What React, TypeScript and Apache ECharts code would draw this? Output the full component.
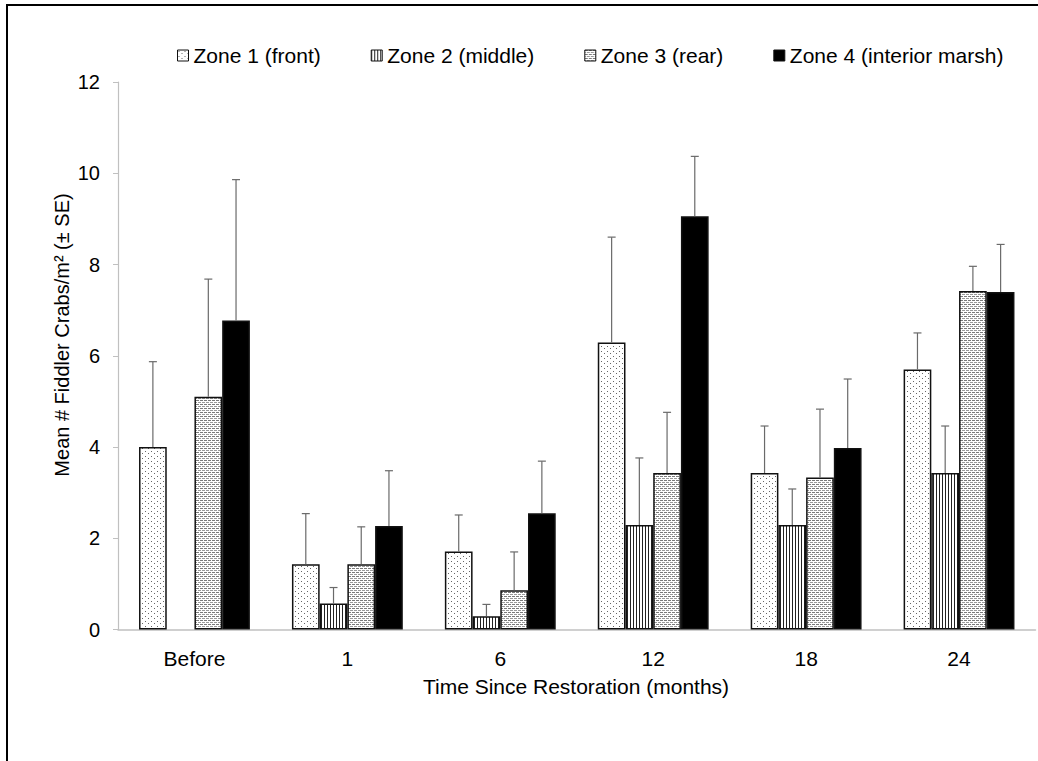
import React, { useEffect, useRef } from "react";
import * as echarts from "echarts";

const categories = ["Before", "1", "6", "12", "18", "24"];
const zoneNames = ["Zone 1 (front)", "Zone 2 (middle)", "Zone 3 (rear)", "Zone 4 (interior marsh)"];

const zone1 = [4.0, 1.43, 1.71, 6.29, 3.43, 5.7];
const zone1Se = [1.87, 1.11, 0.8, 2.31, 1.03, 0.8];
const zone2 = [null, 0.57, 0.29, 2.29, 2.29, 3.43];
const zone2Se = [null, 0.35, 0.26, 1.47, 0.79, 1.03];
const zone3 = [5.1, 1.43, 0.86, 3.43, 3.33, 7.42];
const zone3Se = [2.58, 0.82, 0.84, 1.33, 1.5, 0.54];
const zone4 = [6.77, 2.27, 2.55, 9.06, 3.98, 7.4];
const zone4Se = [3.09, 1.21, 1.14, 1.31, 1.51, 1.04];

const yTicks = [0, 2, 4, 6, 8, 10, 12];

const FONT = "'Liberation Sans', Arial, sans-serif";
const CAT_GAP = 0.275;

function makeTile(w: number, h: number, draw: (ctx: CanvasRenderingContext2D) => void) {
  const c = document.createElement("canvas");
  c.width = w;
  c.height = h;
  const ctx = c.getContext("2d")!;
  ctx.fillStyle = "#ffffff";
  ctx.fillRect(0, 0, w, h);
  draw(ctx);
  return { image: c, repeat: "repeat", imageWidth: w, imageHeight: h } as any;
}

export default function App() {
  const ref = useRef<HTMLDivElement>(null);

  useEffect(() => {
    document.body.style.margin = "0";
    document.body.style.overflow = "hidden";
    if (!ref.current) return;
    const chart = echarts.init(ref.current, null, { renderer: "svg" });

    const dots = makeTile(6, 5, (ctx) => {
      ctx.fillStyle = "#666";
      ctx.fillRect(1, 1, 1, 1);
      ctx.fillRect(4, 3, 1, 1);
    });
    const vlines = makeTile(3, 2, (ctx) => {
      ctx.fillStyle = "#222";
      ctx.fillRect(0, 0, 1, 2);
    });
    const dashes = makeTile(4, 4, (ctx) => {
      ctx.fillStyle = "#7a7a7a";
      ctx.fillRect(0, 0, 3, 1);
      ctx.fillStyle = "#9a9a9a";
      ctx.fillRect(2, 2, 2, 1);
      ctx.fillRect(0, 2, 1, 1);
    });

    const means = [zone1, zone2, zone3, zone4];
    const ses = [zone1Se, zone2Se, zone3Se, zone4Se];
    const fills: any[] = [dots, vlines, dashes, "#000000"];

    const barSeries = means.map((m, i) => ({
      name: zoneNames[i],
      type: "bar",
      data: m,
      barGap: "0%",
      barCategoryGap: CAT_GAP * 100 + "%",
      itemStyle: { color: fills[i], borderColor: "#111", borderWidth: 1.5 },
      z: 2,
    }));

    const errSeries = means.map((m, i) => ({
      name: zoneNames[i] + " SE",
      type: "custom",
      z: 3,
      data: m
        .map((v, k) => (v == null ? null : [k, v, v + (ses[i][k] as number)]))
        .filter((d) => d != null),
      renderItem: (params: any, api: any) => {
        const xi = api.value(0);
        const v = api.value(1);
        const up = api.value(2);
        const base = api.coord([xi, v]);
        const top = api.coord([xi, up]);
        const band = api.size([1, 0])[0];
        const bw = (band * (1 - CAT_GAP)) / 4;
        const x = base[0] + (i - 1.5) * bw;
        const st = { stroke: "#6a6a6a", lineWidth: 1.2 };
        return {
          type: "group",
          children: [
            { type: "line", shape: { x1: x, y1: base[1], x2: x, y2: top[1] }, style: st },
            { type: "line", shape: { x1: x - 4, y1: top[1], x2: x + 4, y2: top[1] }, style: st },
          ],
        };
      },
    }));

    chart.setOption({
      animation: false,
      backgroundColor: "#ffffff",
      textStyle: { fontFamily: FONT },
      legend: {
        data: zoneNames,
        left: 172,
        top: 40,
        icon: "rect",
        itemWidth: 11,
        itemHeight: 11,
        itemGap: 50,
        itemStyle: { borderColor: "#111", borderWidth: 1 },
        textStyle: { fontSize: 21, color: "#000", fontFamily: FONT },
      },
      grid: { left: 118, right: 2.5, top: 82, bottom: 131.5, containLabel: false },
      xAxis: {
        type: "category",
        data: categories,
        axisLine: { lineStyle: { color: "#c0c0c0", width: 1.5 } },
        axisTick: { show: false },
        axisLabel: { fontSize: 21, color: "#000", margin: 18, fontFamily: FONT },
      },
      yAxis: {
        type: "value",
        min: yTicks[0],
        max: yTicks[yTicks.length - 1],
        interval: 2,
        splitLine: { show: false },
        axisLine: { show: true, lineStyle: { color: "#c0c0c0", width: 1.2 } },
        axisTick: { show: true, length: 5, lineStyle: { color: "#c0c0c0" } },
        axisLabel: { fontSize: 20, color: "#000", margin: 18, fontFamily: FONT },
      },
      graphic: [
        {
          type: "line",
          shape: { x1: 6, y1: 5, x2: 1038, y2: 5 },
          style: { stroke: "#000", lineWidth: 2 },
          silent: true,
        },
        {
          type: "line",
          shape: { x1: 7, y1: 4, x2: 7, y2: 761 },
          style: { stroke: "#000", lineWidth: 2 },
          silent: true,
        },
        {
          type: "text",
          x: 62,
          y: 335,
          rotation: Math.PI / 2,
          style: {
            text: "Mean # Fiddler Crabs/m² (± SE)",
            fontSize: 20,
            fontFamily: FONT,
            fill: "#000",
            align: "center",
            verticalAlign: "middle",
          },
        },
        {
          type: "text",
          x: 576,
          y: 686,
          style: {
            text: "Time Since Restoration (months)",
            fontSize: 21,
            fontFamily: FONT,
            fill: "#000",
            align: "center",
            verticalAlign: "middle",
          },
        },
      ],
      series: [...barSeries, ...errSeries],
    });

    return () => chart.dispose();
  }, []);

  return <div ref={ref} style={{ width: 1038, height: 761 }} />;
}
